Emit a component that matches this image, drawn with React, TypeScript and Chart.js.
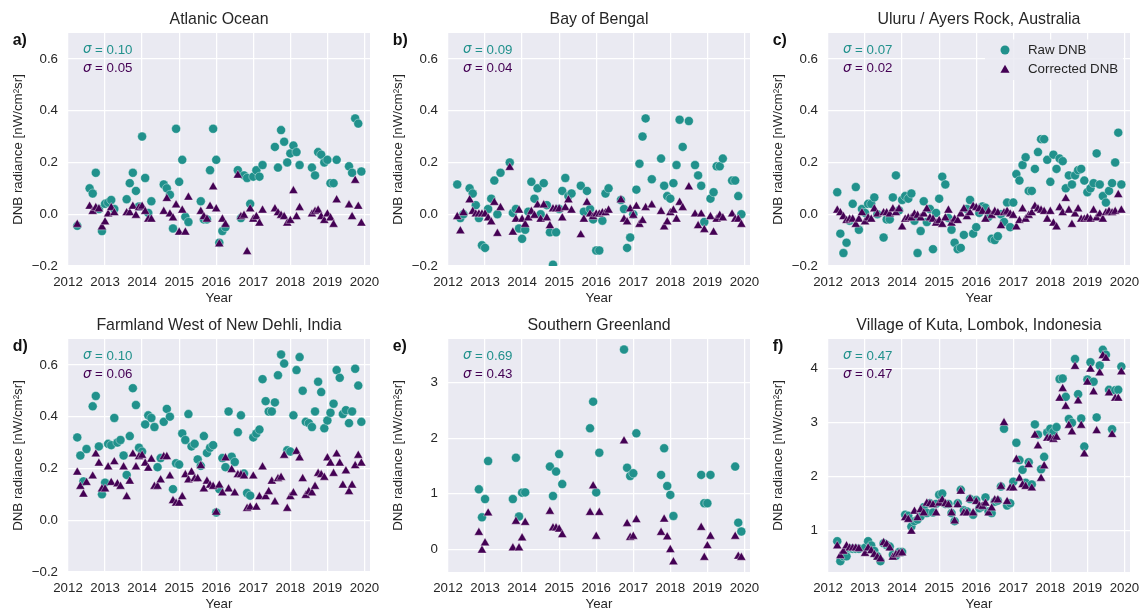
import React, { useEffect, useRef } from 'react';
import { Chart, registerables } from 'chart.js';

Chart.register(...registerables);

const TEAL = '#21918c';
const PURPLE = '#440154';
const TEXT = '#262626';
const BG = '#eaeaf2';
const EDGE = 'rgba(255,255,255,0.75)';
const FONT = '"Liberation Sans", Arial, Helvetica, sans-serif';

const yearTicks = [2012, 2013, 2014, 2015, 2016, 2017, 2018, 2019, 2020];
const smallTicks = [-0.2, 0, 0.2, 0.4, 0.6];
const greenlandTicks = [0, 1, 2, 3];
const kutaTicks = [1, 2, 3, 4];

// ---------- a) Atlanic Ocean ----------
const atlanticMonths = [
  '2012-04', '2012-08', '2012-09', '2012-10', '2012-11', '2012-12',
  '2013-01', '2013-02', '2013-03', '2013-04', '2013-08', '2013-09', '2013-10', '2013-11', '2013-12',
  '2014-01', '2014-02', '2014-03', '2014-04', '2014-08', '2014-09', '2014-10', '2014-11', '2014-12',
  '2015-01', '2015-02', '2015-03', '2015-04', '2015-08', '2015-09', '2015-10', '2015-11', '2015-12',
  '2016-01', '2016-02', '2016-03', '2016-04', '2016-08', '2016-09', '2016-10', '2016-11', '2016-12',
  '2017-01', '2017-02', '2017-03', '2017-04', '2017-08', '2017-09', '2017-10', '2017-11', '2017-12',
  '2018-01', '2018-02', '2018-03', '2018-04', '2018-08', '2018-09', '2018-10', '2018-11', '2018-12',
  '2019-01', '2019-02', '2019-03', '2019-04', '2019-08', '2019-09', '2019-10', '2019-11', '2019-12',
];
const atlanticRaw = [
  -0.045, 0.10, 0.08, 0.16, 0.02, -0.065,
  0.04, 0.045, 0.055, 0.02, 0.058, 0.12, 0.16, 0.09, 0.03,
  0.30, 0.14, 0.005, 0.05, 0.115, 0.10, 0.075, -0.055, 0.33,
  0.125, 0.21, -0.01, -0.03, 0.05, -0.02, -0.02, 0.17, 0.33,
  0.21, -0.11, -0.065, -0.05, 0.17, -0.015, 0.15, 0.14, 0.04,
  0.145, 0.17, 0.145, 0.19, 0.26, 0.18, 0.325, 0.28, 0.20,
  0.235, 0.265, 0.24, 0.19, 0.18, 0.15, 0.24, 0.23, 0.20,
  0.21, 0.12, 0.12, 0.21, 0.185, 0.16, 0.37, 0.35, 0.165,
];
const atlanticCorr = [
  -0.04, 0.03, 0.01, 0.025, 0.02, -0.05,
  -0.03, 0.0, 0.025, 0.005, 0.005, 0.005, 0.03, -0.005, 0.025,
  0.03, 0.01, -0.02, -0.02, 0.01, 0.06, 0.0, -0.015, 0.035,
  -0.07, 0.015, -0.07, 0.065, 0.01, -0.01, -0.02, 0.03, 0.105,
  0.02, -0.115, -0.02, -0.04, 0.15, -0.01, -0.005, -0.145, 0.02,
  -0.02, -0.01, -0.035, 0.015, 0.02, 0.005, -0.005, -0.01, -0.035,
  -0.025, 0.09, -0.01, 0.025, 0.0, 0.01, 0.015, -0.01, -0.025,
  0.0, -0.015, -0.04, 0.055, 0.035, -0.01, 0.13, 0.03, -0.035,
];

// ---------- b) Bay of Bengal ----------
const bengalMonths = [
  '2012-04', '2012-05', '2012-06', '2012-08', '2012-09', '2012-10', '2012-11', '2012-12',
  '2013-01', '2013-02', '2013-03', '2013-04', '2013-05', '2013-06', '2013-09', '2013-10', '2013-11', '2013-12',
  '2014-01', '2014-02', '2014-03', '2014-04', '2014-05', '2014-06', '2014-07', '2014-08', '2014-09', '2014-10', '2014-11', '2014-12',
  '2015-01', '2015-02', '2015-03', '2015-04', '2015-05', '2015-08', '2015-09', '2015-10', '2015-11', '2015-12',
  '2016-01', '2016-02', '2016-03', '2016-04', '2016-05', '2016-09', '2016-10', '2016-11', '2016-12',
  '2017-01', '2017-02', '2017-03', '2017-04', '2017-05', '2017-07', '2017-10', '2017-11', '2017-12',
  '2018-01', '2018-02', '2018-03', '2018-04', '2018-05', '2018-07', '2018-09', '2018-10', '2018-11', '2018-12',
  '2019-02', '2019-03', '2019-04', '2019-05', '2019-06', '2019-09', '2019-10', '2019-11', '2019-12',
];
const bengalRaw = [
  0.115, -0.015, 0.0, 0.10, 0.08, 0.035, -0.015, -0.12,
  -0.13, 0.02, 0.06, 0.13, 0.0, 0.16, 0.20, 0.005, 0.02, -0.055,
  -0.095, -0.06, 0.01, 0.125, 0.06, 0.10, 0.0, 0.12, 0.035, -0.07, -0.195, -0.07,
  0.02, 0.09, 0.14, 0.07, 0.08, 0.11, 0.01, 0.09, 0.02, -0.02,
  -0.14, -0.14, -0.025, 0.08, 0.10, 0.055, 0.02, -0.13, -0.09,
  0.0, 0.095, 0.195, 0.30, 0.37, 0.135, 0.215, 0.11, 0.07,
  0.06, 0.12, 0.19, 0.365, 0.26, 0.36, 0.19, 0.15, 0.11, -0.03,
  0.06, 0.085, 0.185, 0.185, 0.215, 0.13, 0.13, 0.07, 0.0,
];
const bengalCorr = [
  -0.01, -0.065, 0.005, 0.055, 0.01, 0.0, 0.0, 0.0,
  0.0, -0.015, -0.03, 0.045, -0.075, 0.025, 0.18, -0.07, -0.02, 0.015,
  -0.02, -0.04, -0.015, 0.01, -0.005, 0.035, -0.02, 0.035, -0.015, -0.045, 0.02, 0.02,
  0.02, -0.015, 0.025, 0.055, 0.015, -0.08, -0.02, 0.045, 0.0, -0.01,
  0.0, 0.0, 0.005, 0.005, 0.015, 0.055, -0.02, -0.03, 0.02,
  -0.005, 0.03, -0.04, -0.025, 0.025, 0.035, 0.01, -0.05, -0.03,
  0.005, 0.015, -0.02, 0.045, 0.025, 0.105, 0.0, -0.045, 0.0, -0.06,
  -0.01, -0.07, -0.02, -0.005, -0.015, 0.0, -0.02, -0.02, -0.04,
];

// ---------- c) Uluru ----------
const uluruMonths = [
  '2012-04', '2012-05', '2012-06', '2012-07', '2012-08', '2012-09', '2012-10', '2012-11', '2012-12',
  '2013-01', '2013-02', '2013-03', '2013-04', '2013-05', '2013-07', '2013-08', '2013-09', '2013-10', '2013-11', '2013-12',
  '2014-01', '2014-02', '2014-03', '2014-04', '2014-05', '2014-06', '2014-07', '2014-08', '2014-09', '2014-10', '2014-11', '2014-12',
  '2015-01', '2015-02', '2015-03', '2015-04', '2015-05', '2015-06', '2015-07', '2015-08', '2015-09', '2015-10', '2015-11', '2015-12',
  '2016-01', '2016-02', '2016-03', '2016-04', '2016-05', '2016-06', '2016-07', '2016-08', '2016-09', '2016-10', '2016-11', '2016-12',
  '2017-01', '2017-02', '2017-03', '2017-04', '2017-05', '2017-06', '2017-07', '2017-08', '2017-09', '2017-10', '2017-11', '2017-12',
  '2018-01', '2018-02', '2018-03', '2018-04', '2018-05', '2018-06', '2018-07', '2018-08', '2018-09', '2018-10', '2018-11', '2018-12',
  '2019-01', '2019-02', '2019-03', '2019-04', '2019-05', '2019-06', '2019-07', '2019-08', '2019-09', '2019-10', '2019-11', '2019-12',
];
const uluruRaw = [
  0.085, -0.075, -0.15, -0.11, -0.025, 0.04, 0.105, -0.06, 0.02,
  0.005, 0.04, 0.04, 0.065, 0.0, -0.09, -0.02, -0.02, 0.065, 0.15, 0.015,
  0.055, 0.07, 0.06, 0.08, -0.025, -0.15, -0.065, 0.05, -0.03, 0.02, -0.135, 0.005,
  0.06, 0.145, 0.115, -0.015, -0.06, -0.11, -0.135, -0.13, -0.08, 0.02, 0.055, -0.075,
  -0.05, 0.005, 0.03, 0.025, -0.01, -0.095, -0.1, -0.085, 0.0, -0.03, 0.045, -0.05,
  0.045, 0.155, 0.13, 0.19, 0.22, 0.09, 0.09, 0.175, 0.24, 0.29, 0.29, 0.21,
  0.125, 0.23, 0.175, 0.215, 0.205, 0.10, 0.15, 0.115, 0.15, 0.17, 0.175, 0.13,
  0.085, 0.10, 0.12, 0.235, 0.115, 0.07, 0.045, 0.09, 0.12, 0.20, 0.315, 0.115,
];
const uluruCorr = [
  0.015, 0.005, -0.01, -0.025, -0.02, -0.02, -0.04, -0.02, 0.005,
  -0.03, -0.015, -0.02, 0.02, 0.0, 0.005, 0.005, 0.0, 0.02, 0.005, 0.02,
  -0.05, -0.02, -0.015, -0.015, 0.0, -0.005, -0.015, 0.0, 0.02, -0.015, -0.02, -0.035,
  -0.025, -0.04, -0.015, 0.015, -0.035, -0.02, -0.025, 0.0, 0.02, -0.01, 0.005, 0.03,
  0.025, 0.02, 0.01, -0.02, 0.01, -0.005, 0.01, 0.005, -0.045, 0.005, 0.01, 0.0,
  -0.005, -0.05, -0.025, 0.02, -0.02, -0.005, 0.005, 0.03, 0.02, 0.015, 0.01, -0.02,
  0.01, -0.035, -0.05, 0.025, 0.005, 0.06, 0.015, -0.04, 0.0, 0.02, -0.02, -0.02,
  -0.015, -0.02, 0.015, -0.015, 0.0, -0.02, 0.005, 0.01, 0.005, 0.01, 0.075, 0.015,
];

// ---------- d) Farmland West of New Dehli ----------
const dehliMonths = [
  '2012-04', '2012-05', '2012-06', '2012-07', '2012-09', '2012-10', '2012-11', '2012-12',
  '2013-01', '2013-02', '2013-03', '2013-04', '2013-05', '2013-06', '2013-07', '2013-08', '2013-09', '2013-10', '2013-11', '2013-12',
  '2014-01', '2014-02', '2014-03', '2014-04', '2014-05', '2014-06', '2014-07', '2014-08', '2014-09', '2014-10', '2014-11', '2014-12',
  '2015-01', '2015-02', '2015-03', '2015-04', '2015-05', '2015-06', '2015-07', '2015-08', '2015-09', '2015-10', '2015-11', '2015-12',
  '2016-01', '2016-02', '2016-03', '2016-04', '2016-05', '2016-06', '2016-07', '2016-08', '2016-09', '2016-10', '2016-11', '2016-12',
  '2017-01', '2017-02', '2017-03', '2017-04', '2017-05', '2017-06', '2017-07', '2017-08', '2017-09', '2017-10', '2017-11', '2017-12',
  '2018-01', '2018-02', '2018-03', '2018-04', '2018-05', '2018-06', '2018-07', '2018-08', '2018-09', '2018-10', '2018-11', '2018-12',
  '2019-01', '2019-02', '2019-03', '2019-04', '2019-05', '2019-06', '2019-07', '2019-08', '2019-09', '2019-10', '2019-11', '2019-12',
];
const dehliRaw = [
  0.32, 0.25, 0.15, 0.275, 0.44, 0.48, 0.285, 0.10,
  0.145, 0.295, 0.29, 0.395, 0.30, 0.31, 0.25, 0.175, 0.325, 0.51, 0.445, 0.28,
  0.265, 0.37, 0.405, 0.395, 0.36, 0.205, 0.24, 0.38, 0.43, 0.40, 0.12, 0.22,
  0.215, 0.335, 0.31, 0.41, 0.285, 0.295, 0.235, 0.21, 0.325, 0.26, 0.28, 0.29,
  0.03, 0.12, 0.24, 0.205, 0.42, 0.245, 0.225, 0.34, 0.405, 0.18, 0.105, 0.095,
  0.32, 0.335, 0.35, 0.545, 0.46, 0.42, 0.42, 0.455, 0.56, 0.64, 0.605, 0.27,
  0.265, 0.405, 0.58, 0.63, 0.50, 0.38, 0.375, 0.36, 0.42, 0.535, 0.495, 0.355,
  0.385, 0.415, 0.45, 0.58, 0.55, 0.41, 0.425, 0.375, 0.42, 0.585, 0.52, 0.38,
];
const dehliCorr = [
  0.185, 0.13, 0.10, 0.145, 0.17, 0.255, 0.22, 0.12,
  0.12, 0.205, 0.145, 0.225, 0.14, 0.13, 0.205, 0.09, 0.15, 0.255, 0.205, 0.245,
  0.25, 0.22, 0.20, 0.235, 0.13, 0.13, 0.155, 0.245, 0.245, 0.17, 0.075, 0.065,
  0.065, 0.09, 0.175, 0.155, 0.185, 0.16, 0.16, 0.21, 0.12, 0.15, 0.135, 0.13,
  0.03, 0.135, 0.105, 0.24, 0.12, 0.195, 0.105, 0.175, 0.175, 0.17, 0.045, 0.05,
  0.17, 0.05, 0.09, 0.205, 0.09, 0.11, 0.15, 0.07, 0.16, 0.165, 0.25, 0.045,
  0.09, 0.105, 0.265, 0.24, 0.16, 0.095, 0.11, 0.105, 0.13, 0.18, 0.175, 0.165,
  0.24, 0.22, 0.18, 0.255, 0.22, 0.135, 0.19, 0.11, 0.135, 0.21, 0.25, 0.22,
];

// ---------- e) Southern Greenland ----------
const greenlandMonths = [
  '2012-11', '2012-12', '2013-01', '2013-02', '2013-10', '2013-11', '2013-12', '2014-01', '2014-02',
  '2014-10', '2014-11', '2014-12', '2015-01', '2015-02', '2015-11', '2015-12', '2016-01', '2016-02',
  '2016-10', '2016-11', '2016-12', '2017-01', '2017-02', '2017-10', '2017-11', '2017-12', '2018-01', '2018-02',
  '2018-11', '2018-12', '2019-01', '2019-02', '2019-10', '2019-11', '2019-12',
];
const greenlandRaw = [
  1.08, 0.575, 0.905, 1.59, 0.905, 1.65, 0.59, 1.02, 1.025,
  1.49, 0.96, 1.40, 1.715, 1.175, 2.18, 2.66, 1.025, 1.74,
  3.60, 1.47, 1.32, 1.37, 2.09, 1.34, 1.82, 1.14, 0.98, 0.60,
  1.34, 0.83, 0.83, 1.34, 1.49, 0.48, 0.32,
];
const greenlandCorr = [
  0.30, -0.02, 0.11, 0.65, 0.02, 0.50, 0.02, 0.20, 0.48,
  0.68, 0.38, 0.38, 0.36, 0.26, 0.66, 1.14, 0.23, 0.66,
  1.95, 0.46, 0.21, 0.23, 0.53, 0.30, 0.54, 0.22, -0.01, -0.23,
  0.39, -0.15, 0.06, 0.23, 0.23, -0.13, -0.15,
];

// ---------- f) Village of Kuta ----------
const kutaMonths = [
  '2012-04', '2012-05', '2012-06', '2012-07', '2012-08', '2012-09', '2012-10', '2012-11',
  '2013-01', '2013-02', '2013-03', '2013-04', '2013-05', '2013-06', '2013-07', '2013-08', '2013-09', '2013-10', '2013-11', '2013-12',
  '2014-01', '2014-02', '2014-03', '2014-04', '2014-05', '2014-06', '2014-07', '2014-08', '2014-09', '2014-10', '2014-11', '2014-12',
  '2015-01', '2015-02', '2015-03', '2015-04', '2015-05', '2015-06', '2015-07', '2015-08', '2015-09', '2015-10', '2015-11', '2015-12',
  '2016-01', '2016-02', '2016-03', '2016-04', '2016-05', '2016-06', '2016-07', '2016-08', '2016-09', '2016-10', '2016-11', '2016-12',
  '2017-01', '2017-02', '2017-03', '2017-04', '2017-05', '2017-06', '2017-07', '2017-08', '2017-09', '2017-10', '2017-11', '2017-12',
  '2018-01', '2018-02', '2018-03', '2018-04', '2018-05', '2018-06', '2018-07', '2018-08', '2018-09', '2018-10', '2018-11', '2018-12',
  '2019-01', '2019-02', '2019-03', '2019-04', '2019-05', '2019-06', '2019-07', '2019-08', '2019-09', '2019-10', '2019-11', '2019-12',
];
const kutaRaw = [
  0.80, 0.43, 0.52, 0.52, 0.67, 0.66, 0.66, 0.66,
  0.68, 0.80, 0.72, 0.62, 0.52, 0.43, 0.76, 0.73, 0.70, 0.55, 0.53, 0.60,
  0.60, 1.29, 1.27, 1.07, 1.17, 1.20, 1.26, 1.43, 1.32, 1.50, 1.33, 1.49,
  1.66, 1.68, 1.49, 1.49, 1.32, 1.17, 1.50, 1.75, 1.37, 1.35, 1.58, 1.29,
  1.56, 1.41, 1.44, 1.61, 1.35, 1.32, 1.53, 1.55, 1.81, 2.88, 1.46, 1.50,
  1.90, 2.62, 2.30, 2.12, 1.88, 2.26, 1.85, 2.96, 2.77, 2.13, 2.36, 2.81,
  2.88, 2.82, 2.91, 3.80, 3.81, 3.47, 3.06, 2.99, 4.17, 3.52, 3.07, 2.55,
  3.79, 4.11, 3.75, 3.09, 4.05, 4.34, 4.25, 3.60, 2.87, 3.59, 3.60, 4.03,
];
const kutaCorr = [
  0.71, 0.53, 0.61, 0.71, 0.67, 0.67, 0.67, 0.66,
  0.57, 0.67, 0.62, 0.55, 0.50, 0.47, 0.77, 0.74, 0.67, 0.50, 0.55, 0.57,
  0.58, 1.23, 1.20, 0.98, 1.35, 1.23, 1.38, 1.32, 1.50, 1.49, 1.47, 1.32,
  1.50, 1.56, 1.49, 1.47, 1.32, 1.17, 1.47, 1.72, 1.32, 1.32, 1.58, 1.32,
  1.53, 1.45, 1.44, 1.50, 1.32, 1.41, 1.56, 1.56, 1.81, 2.99, 1.53, 1.78,
  1.78, 2.31, 1.96, 1.84, 1.81, 2.21, 1.78, 2.76, 2.56, 1.96, 2.19, 2.70,
  2.70, 2.68, 2.72, 3.44, 3.62, 3.29, 2.94, 2.82, 4.03, 3.39, 2.94, 2.41,
  3.74, 3.98, 3.56, 2.84, 3.91, 4.23, 4.18, 3.54, 2.77, 3.44, 3.44, 3.93,
];

type PanelDef = {
  title: string;
  letter: string;
  months: string[];
  raw: number[];
  corr: number[];
  yMin: number;
  yMax: number;
  yTicks: number[];
  decimals: number;
  sigmaRaw: string;
  sigmaCorr: string;
  legend: boolean;
};

const panels: PanelDef[] = [
  { title: 'Atlanic Ocean', letter: 'a)', months: atlanticMonths, raw: atlanticRaw, corr: atlanticCorr, yMin: -0.2, yMax: 0.7, yTicks: smallTicks, decimals: 1, sigmaRaw: '0.10', sigmaCorr: '0.05', legend: false },
  { title: 'Bay of Bengal', letter: 'b)', months: bengalMonths, raw: bengalRaw, corr: bengalCorr, yMin: -0.2, yMax: 0.7, yTicks: smallTicks, decimals: 1, sigmaRaw: '0.09', sigmaCorr: '0.04', legend: false },
  { title: 'Uluru / Ayers Rock, Australia', letter: 'c)', months: uluruMonths, raw: uluruRaw, corr: uluruCorr, yMin: -0.2, yMax: 0.7, yTicks: smallTicks, decimals: 1, sigmaRaw: '0.07', sigmaCorr: '0.02', legend: true },
  { title: 'Farmland West of New Dehli, India', letter: 'd)', months: dehliMonths, raw: dehliRaw, corr: dehliCorr, yMin: -0.2, yMax: 0.7, yTicks: smallTicks, decimals: 1, sigmaRaw: '0.10', sigmaCorr: '0.06', legend: false },
  { title: 'Southern Greenland', letter: 'e)', months: greenlandMonths, raw: greenlandRaw, corr: greenlandCorr, yMin: -0.41, yMax: 3.79, yTicks: greenlandTicks, decimals: 0, sigmaRaw: '0.69', sigmaCorr: '0.43', legend: false },
  { title: 'Village of Kuta, Lombok, Indonesia', letter: 'f)', months: kutaMonths, raw: kutaRaw, corr: kutaCorr, yMin: 0.23, yMax: 4.54, yTicks: kutaTicks, decimals: 0, sigmaRaw: '0.47', sigmaCorr: '0.47', legend: false },
];

const colLefts = [0, 380, 760];
const colWidths = [380, 380, 382];
const rowTops = [0, 306];
const CANVAS_H = 306;

const toYear = (m: string) => {
  const [y, mo] = m.split('-').map(Number);
  return y + (mo - 1) / 12;
};

const fmtTick = (v: number, decimals: number) => {
  const s = Math.abs(v).toFixed(decimals);
  return v < -1e-9 ? '\u2212' + s : s;
};

function drawTriangle(ctx: CanvasRenderingContext2D, x: number, y: number, r: number) {
  let rad = 0;
  const step = (2 * Math.PI) / 3;
  ctx.beginPath();
  ctx.moveTo(x + Math.sin(rad) * r, y - Math.cos(rad) * r);
  rad += step;
  ctx.lineTo(x + Math.sin(rad) * r, y - Math.cos(rad) * r);
  rad += step;
  ctx.lineTo(x + Math.sin(rad) * r, y - Math.cos(rad) * r);
  ctx.closePath();
  ctx.fill();
}

const CIRCLE_R = 4.5;
const TRI_R = 5.3;

function Panel({ def, left, top, width }: { def: PanelDef; left: number; top: number; width: number }) {
  const ref = useRef<HTMLCanvasElement>(null);
  useEffect(() => {
    const canvas = ref.current;
    if (!canvas) return;
    const xs = def.months.map(toYear);
    const decorations = {
      id: 'decorations',
      beforeDraw(chart: any) {
        const { ctx, chartArea } = chart;
        ctx.save();
        ctx.fillStyle = BG;
        ctx.fillRect(chartArea.left, chartArea.top, chartArea.right - chartArea.left, chartArea.bottom - chartArea.top);
        ctx.restore();
      },
      afterDraw(chart: any) {
        const { ctx, chartArea } = chart;
        const ca = chartArea;
        ctx.save();
        ctx.fillStyle = TEXT;
        ctx.font = `15.9px ${FONT}`;
        ctx.textAlign = 'center';
        ctx.textBaseline = 'middle';
        ctx.fillText(def.title, (ca.left + ca.right) / 2, ca.top - 13);
        ctx.font = `bold 15.9px ${FONT}`;
        ctx.textAlign = 'left';
        ctx.fillStyle = '#111111';
        ctx.fillText(def.letter, ca.left - 55.3, ca.top + 7.5);
        const sig = (val: string, color: string, y: number) => {
          ctx.fillStyle = color;
          ctx.font = `italic 13.3px "DejaVu Sans", sans-serif`;
          ctx.textAlign = 'left';
          ctx.textBaseline = 'middle';
          const x0 = ca.left + 15;
          ctx.fillText('\u03c3', x0, y);
          const w = ctx.measureText('\u03c3').width;
          ctx.font = `13.3px ${FONT}`;
          ctx.fillText(' = ' + val, x0 + w, y);
        };
        sig(def.sigmaRaw, TEAL, ca.top + 17);
        sig(def.sigmaCorr, PURPLE, ca.top + 35.5);
        if (def.legend) {
          const bx0 = ca.right - 145;
          const bx1 = ca.right - 7;
          const by0 = ca.top + 6.5;
          const by1 = ca.top + 47;
          ctx.fillStyle = 'rgba(234,234,242,0.85)';
          ctx.beginPath();
          const rr = 3;
          ctx.moveTo(bx0 + rr, by0);
          ctx.lineTo(bx1 - rr, by0);
          ctx.quadraticCurveTo(bx1, by0, bx1, by0 + rr);
          ctx.lineTo(bx1, by1 - rr);
          ctx.quadraticCurveTo(bx1, by1, bx1 - rr, by1);
          ctx.lineTo(bx0 + rr, by1);
          ctx.quadraticCurveTo(bx0, by1, bx0, by1 - rr);
          ctx.lineTo(bx0, by0 + rr);
          ctx.quadraticCurveTo(bx0, by0, bx0 + rr, by0);
          ctx.closePath();
          ctx.fill();
          const mx = ca.right - 125;
          const y1 = ca.top + 17;
          const y2 = ca.top + 36;
          ctx.fillStyle = TEAL;
          ctx.beginPath();
          ctx.arc(mx, y1, CIRCLE_R, 0, Math.PI * 2);
          ctx.fill();
          ctx.fillStyle = PURPLE;
          drawTriangle(ctx, mx, y2 + 1, TRI_R);
          ctx.fillStyle = TEXT;
          ctx.font = `13.3px ${FONT}`;
          ctx.textAlign = 'left';
          ctx.textBaseline = 'middle';
          ctx.fillText('Raw DNB', ca.right - 102, y1);
          ctx.fillText('Corrected DNB', ca.right - 102, y2);
        }
        ctx.restore();
      },
    };

    const chart = new Chart(canvas, {
      type: 'scatter',
      data: {
        datasets: [
          {
            label: 'Raw DNB',
            data: xs.map((x, i) => ({ x, y: def.raw[i] })),
            pointStyle: 'circle',
            pointRadius: CIRCLE_R,
            backgroundColor: TEAL,
            borderColor: EDGE,
            borderWidth: 0.5,
            order: 2,
          },
          {
            label: 'Corrected DNB',
            data: xs.map((x, i) => ({ x, y: def.corr[i] })),
            pointStyle: 'triangle',
            pointRadius: TRI_R,
            backgroundColor: PURPLE,
            borderColor: EDGE,
            borderWidth: 0.5,
            order: 1,
          },
        ],
      },
      options: {
        animation: false,
        responsive: false,
        events: [],
        layout: { padding: { left: 0, top: 33, right: width - 370, bottom: 0 } },
        plugins: { legend: { display: false }, tooltip: { enabled: false }, title: { display: false } },
        scales: {
          x: {
            type: 'linear',
            position: 'bottom',
            min: 2012,
            max: 2020.15,
            afterBuildTicks: (s: any) => {
              s.ticks = yearTicks.map((v) => ({ value: v }));
            },
            afterFit: (s: any) => {
              s.height = 40;
              s.paddingLeft = 0;
              s.paddingRight = 0;
            },
            grid: { color: '#ffffff', lineWidth: 1.25, drawTicks: false },
            border: { display: false },
            ticks: {
              padding: 8,
              color: TEXT,
              autoSkip: false,
              maxRotation: 0,
              font: { family: FONT, size: 13.3 },
              callback: (v: any) => String(v),
            },
            title: { display: true, text: 'Year', color: TEXT, font: { family: FONT, size: 13.3 }, padding: { top: 0, bottom: 0 } },
          },
          y: {
            type: 'linear',
            min: def.yMin,
            max: def.yMax,
            afterBuildTicks: (s: any) => {
              s.ticks = def.yTicks.map((v) => ({ value: v }));
            },
            afterFit: (s: any) => {
              s.width = 68;
              s.paddingTop = 0;
              s.paddingBottom = 0;
            },
            grid: { color: '#ffffff', lineWidth: 1.25, drawTicks: false },
            border: { display: false },
            ticks: {
              padding: 10,
              color: TEXT,
              font: { family: FONT, size: 13.3 },
              callback: (v: any) => fmtTick(Number(v), def.decimals),
            },
            title: {
              display: true,
              text: 'DNB radiance [nW/cm\u00b2sr]',
              color: TEXT,
              font: { family: FONT, size: 13.3 },
              padding: { top: 10, bottom: 0 },
            },
          },
        },
      },
      plugins: [decorations],
    } as any);
    return () => chart.destroy();
  }, [def, width]);

  return (
    <canvas
      ref={ref}
      width={width}
      height={CANVAS_H}
      style={{ position: 'absolute', left, top, width, height: CANVAS_H }}
    />
  );
}

export default function App() {
  return (
    <div style={{ position: 'fixed', left: 0, top: 0, width: 1142, height: 613, background: '#ffffff', overflow: 'hidden' }}>
      {panels.map((p, i) => (
        <Panel key={i} def={p} left={colLefts[i % 3]} top={rowTops[Math.floor(i / 3)]} width={colWidths[i % 3]} />
      ))}
    </div>
  );
}
